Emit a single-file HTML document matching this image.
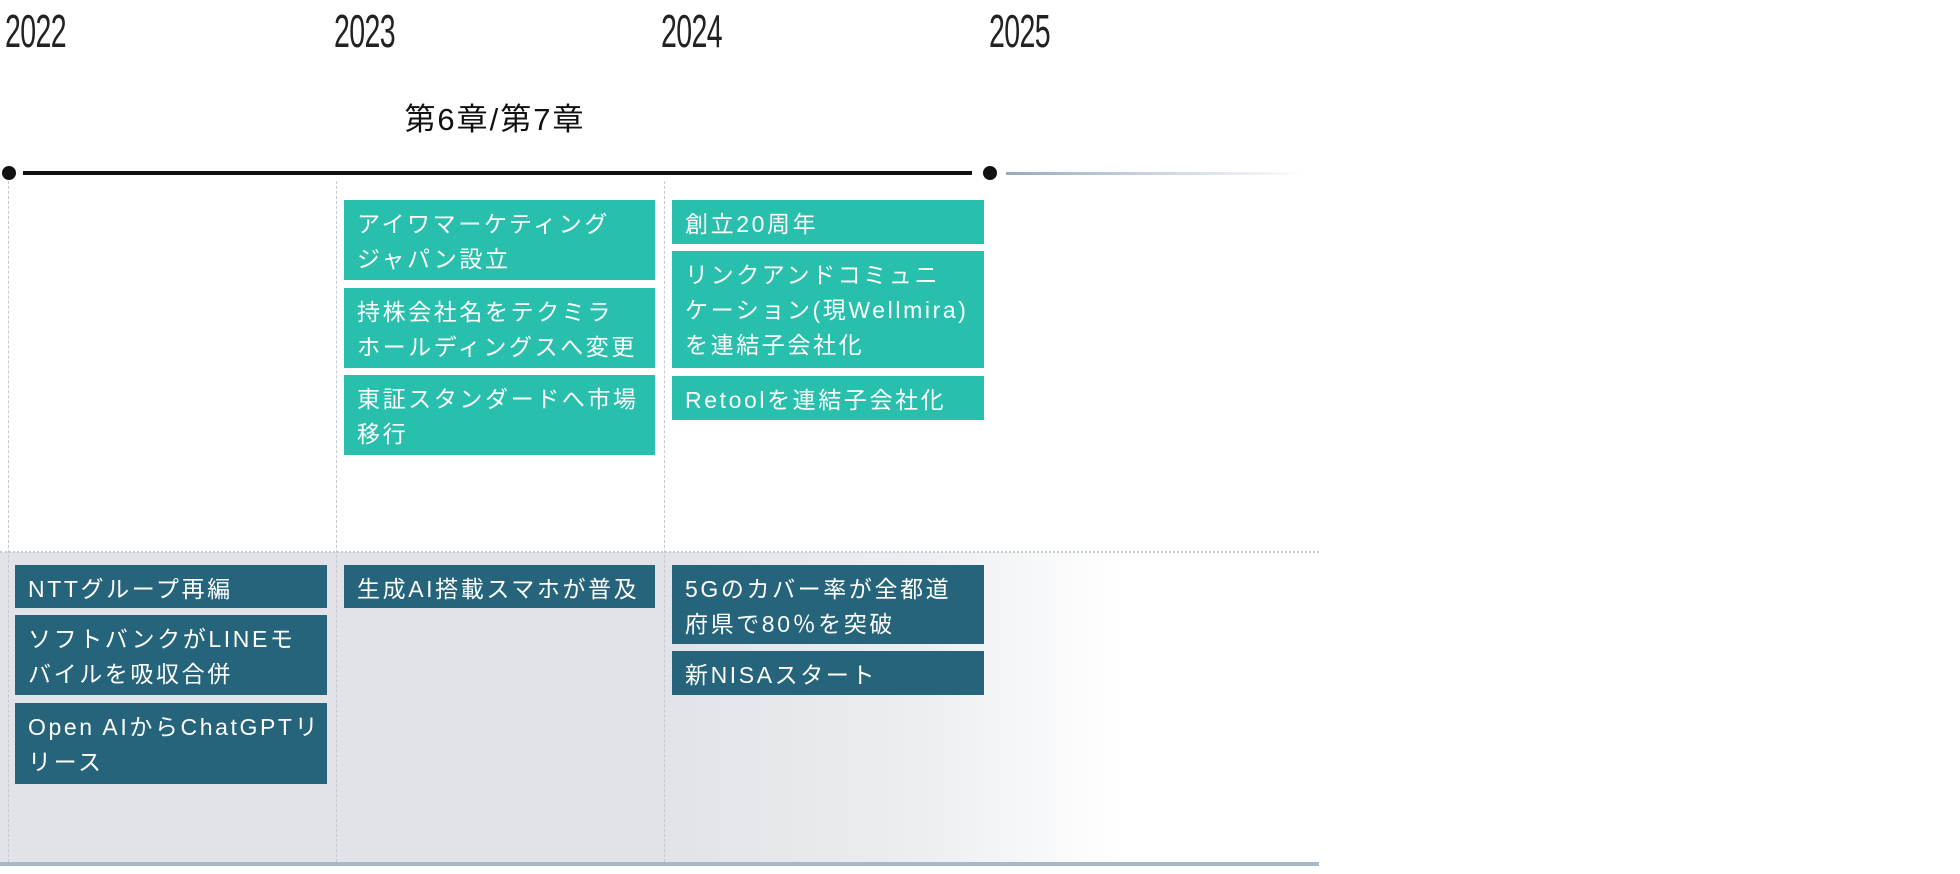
<!DOCTYPE html>
<html><head><meta charset="utf-8"><style>
*{margin:0;padding:0;box-sizing:border-box}
body{width:1960px;height:874px;background:#fff;position:relative;overflow:hidden;font-family:"Liberation Sans","Noto Sans CJK JP",sans-serif}
.yr{position:absolute;top:4px;font-size:46px;color:#222;transform:scaleX(0.62);transform-origin:left top;font-family:"Liberation Sans Narrow","Liberation Sans",sans-serif;letter-spacing:-1px}
.vl{position:absolute;top:181px;height:681px;border-left:1.5px dashed #c5cad2}
.b{position:absolute;color:#fff;font-size:23px;letter-spacing:2.6px;line-height:35px;padding:7px 0 0 13px;white-space:nowrap}
.t{background:#29bfad}.d{background:#25647a}
</style></head><body>
<div style="position:absolute;left:0;top:552px;width:1319px;height:310px;background:linear-gradient(90deg,#e1e3e8 0%,#e1e3e8 50%,#eceef1 70%,#fff 85%)"></div>
<div style="position:absolute;left:0;top:551px;width:1319px;border-top:2px dotted #c5cad2"></div>
<div style="position:absolute;left:0;top:862px;width:1319px;height:4px;background:#a8b8c6"></div>
<div class="yr" style="left:5px">2022</div>
<div class="yr" style="left:334px">2023</div>
<div class="yr" style="left:661px">2024</div>
<div class="yr" style="left:989px">2025</div>
<div style="position:absolute;left:0;width:990px;top:94px;text-align:center;font-size:31px;letter-spacing:2px;color:#111">第6章/第7章</div>
<div style="position:absolute;left:23px;top:171px;width:949px;height:4px;background:#111"></div>
<div style="position:absolute;top:166px;left:2px;width:14px;height:14px;border-radius:50%;background:#111"></div>
<div style="position:absolute;top:166px;left:983px;width:14px;height:14px;border-radius:50%;background:#111"></div>
<div style="position:absolute;left:1006px;top:172px;width:300px;height:3px;background:linear-gradient(90deg,#9aaabb,#fff)"></div>
<div class="vl" style="left:8px"></div>
<div class="vl" style="left:336px"></div>
<div class="vl" style="left:664px"></div>
<div class="b t" style="left:344px;top:200px;width:311px;height:80px">アイワマーケティング<br>ジャパン設立</div>
<div class="b t" style="left:344px;top:288px;width:311px;height:80px">持株会社名をテクミラ<br>ホールディングスへ変更</div>
<div class="b t" style="left:344px;top:375px;width:311px;height:80px">東証スタンダードへ市場<br>移行</div>
<div class="b t" style="left:672px;top:200px;width:312px;height:44px">創立20周年</div>
<div class="b t" style="left:672px;top:251px;width:312px;height:117px">リンクアンドコミュニ<br>ケーション(現Wellmira)<br>を連結子会社化</div>
<div class="b t" style="left:672px;top:376px;width:312px;height:44px">Retoolを連結子会社化</div>
<div class="b d" style="left:15px;top:565px;width:312px;height:43px">NTTグループ再編</div>
<div class="b d" style="left:15px;top:615px;width:312px;height:80px">ソフトバンクがLINEモ<br>バイルを吸収合併</div>
<div class="b d" style="left:15px;top:703px;width:312px;height:81px">Open AIからChatGPTリ<br>リース</div>
<div class="b d" style="left:344px;top:565px;width:311px;height:43px">生成AI搭載スマホが普及</div>
<div class="b d" style="left:672px;top:565px;width:312px;height:79px">5Gのカバー率が全都道<br>府県で80％を突破</div>
<div class="b d" style="left:672px;top:651px;width:312px;height:44px">新NISAスタート</div>
</body></html>
